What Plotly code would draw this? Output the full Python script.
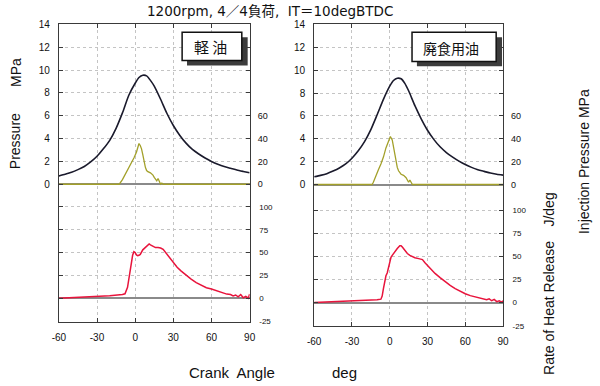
import plotly.graph_objects as go

# ---------------- data ----------------
# Cylinder pressure (MPa) vs crank angle (deg)
p_angle = [-60, -55, -50, -45, -40, -35, -30, -25, -20, -15, -10, -5, 0, 3, 6, 9, 12, 15,
           20, 25, 30, 35, 40, 45, 50, 55, 60, 65, 70, 75, 80, 85, 90]
p_light = [0.73, 0.88, 1.05, 1.28, 1.55, 1.95, 2.45, 3.1, 3.85, 4.9, 6.25, 7.8, 8.85, 9.35, 9.55,
           9.5, 9.1, 8.6, 7.45, 6.2, 5.15, 4.3, 3.6, 3.05, 2.65, 2.3, 2.0, 1.75, 1.55, 1.4, 1.25, 1.12, 1.0]
p_waste = [0.68, 0.8, 0.95, 1.18, 1.45, 1.8, 2.3, 2.95, 3.75, 4.8, 6.1, 7.45, 8.6, 9.1, 9.3,
           9.25, 8.85, 8.2, 6.9, 5.75, 4.75, 3.95, 3.3, 2.8, 2.4, 2.05, 1.75, 1.5, 1.3, 1.15, 1.0, 0.9, 0.82]

# Injection pressure (MPa)
inj_angle_l = [-60, -12.5, -10, -7, -4, -1, 1, 2, 3, 4, 5, 6, 7, 8, 9, 10, 12, 14, 15, 16, 17, 18, 19, 20, 21, 22, 90]
inj_light = [0, 0, 4, 10, 17, 23, 28, 32, 35.7, 34, 31, 26, 20, 15, 12, 11, 10, 8, 6, 4, 3, 5, 2, 0, 1, 0, 0]
inj_angle_r = [-60, -14, -13, -11, -9, -7, -5, -3, -1, 0.5, 2, 3, 4, 5, 6, 7, 9, 11, 13, 14, 15, 16, 17, 18, 90]
inj_waste = [0, 0, 2, 8, 13, 18, 24, 32, 38, 42, 39, 33, 26, 20, 15, 12, 9, 8, 6, 4, 2, 4, 2, 0, 0]

# Rate of heat release (J/deg)
h_angle_l = [-60, -55, -50, -40, -30, -20, -10, -8, -6, -4, -2, -1, 0, 1, 2, 3, 4, 6, 8, 10, 11, 12,
             14, 16, 18, 20, 22, 24, 26, 28, 30, 33, 36, 40, 44, 48, 52, 56, 60, 64, 68, 72, 75,
             77, 79, 81, 83, 85, 87, 89, 90]
heat_light = [0, 0.3, 0.5, 1.2, 2.0, 2.8, 4.0, 4.8, 12, 30, 47, 51, 50, 47.5, 46.7, 47, 48, 53, 56,
              58.5, 59.5, 58.5, 56.5, 55.5, 55.5, 55, 53.5, 50, 46, 42, 38.5, 34, 30, 25, 21, 17,
              14, 11.5, 10, 8, 6, 4.5, 4, 2.5, 3.5, 1.5, 4, 0.5, 2, 0, 4.5]
h_angle_r = [-60, -50, -40, -30, -20, -10, -7, -6, -5, -4, -3, -2, -1, 0, 1, 2, 3, 4, 6, 8, 9, 10,
             12, 14, 16, 18, 20, 23, 26, 28, 30, 33, 36, 40, 44, 48, 52, 56, 60, 64, 68, 72, 75,
             77, 79, 81, 83, 85, 87, 89, 90]
heat_waste = [0, 0.5, 1, 1.5, 2.2, 3, 3.7, 7, 15, 24, 29, 32, 38, 45, 49, 51, 53, 55, 58.5, 61.5,
              61.5, 60, 56.5, 53, 51, 49.5, 48.5, 47.5, 46.5, 43, 40, 35.5, 31.5, 27, 22.5, 18.5,
              15, 12, 9.5, 7.5, 6, 5, 4, 3, 4, 2, 3.5, 1, 2, 0.5, 2]

x_ticks = [-60, -30, 0, 30, 60, 90]
x_tick_labels = ["-60", "-30", "0", "30", "60", "90"]
p_ticks = [0, 2, 4, 6, 8, 10, 12, 14]
inj_ticks = [0, 20, 40, 60]
heat_ticks = [-25, 0, 25, 50, 75, 100]
heat_tick_labels = ["-25", "0", "25", "50", "75", "100"]

title_text = "1200rpm, 4／4負荷,  IT＝10degBTDC"
panel_labels = ["軽 油", "廃食用油"]

# ---------------- layout helpers ----------------
W, H = 600, 386
C_P = "#1a1a2c"
C_INJ = "#a3a02a"
C_HEAT = "#e8143c"
C_FRAME = "#3a3a3a"
C_GRID = "#c4c4c4"
FONT = "Liberation Sans, Arial, sans-serif"
CJK = "Noto Sans CJK JP"


def px(x):
    return x / W


def py(y):
    return 1 - y / H


def ax_range(top_px, bot_px, zero_px, ppu):
    return [-(bot_px - zero_px) / ppu, (zero_px - top_px) / ppu]


# panel geometry in pixels
panels = [
    dict(x0=53, x1=248, top=20, bot=325, pz=184.0, pppu=(184.0 - 20) / 14, hz=301.0, hppu=(301.0 - 207.3) / 100),
    dict(x0=314, x1=507, top=20, bot=329.5, pz=184.3, pppu=(184.3 - 20) / 14, hz=305.5, hppu=(305.5 - 210.5) / 100),
]

fig = go.Figure()
layout = dict(width=W, height=H, margin=dict(l=0, r=0, t=0, b=0), autosize=False,
              paper_bgcolor="white", plot_bgcolor="white", showlegend=False)

series = [
    (p_angle, p_light, inj_angle_l, inj_light, h_angle_l, heat_light),
    (p_angle, p_waste, inj_angle_r, inj_waste, h_angle_r, heat_waste),
]

for i, g in enumerate(panels):
    xa = "x" if i == 0 else "x2"
    xkey = "xaxis" if i == 0 else "xaxis2"
    yp, yi, yh = 1 + 3 * i, 2 + 3 * i, 3 + 3 * i
    ynames = ["y" if n == 1 else f"y{n}" for n in (yp, yi, yh)]
    ykeys = ["yaxis" if n == 1 else f"yaxis{n}" for n in (yp, yi, yh)]
    dom_y = [py(g["bot"]), py(g["top"])]
    prange = ax_range(g["top"], g["bot"], g["pz"], g["pppu"])
    irange = [v * 10 for v in prange]
    hrange = ax_range(g["top"], g["bot"], g["hz"], g["hppu"])

    layout[xkey] = dict(domain=[px(g["x0"]), px(g["x1"])], range=[-60, 90], anchor=ynames[0],
                        tickvals=x_ticks, ticktext=x_tick_labels, ticks="inside", ticklen=4,
                        tickcolor=C_FRAME, showline=True, linecolor=C_FRAME, linewidth=1, mirror="ticks",
                        showgrid=True, gridcolor=C_GRID, griddash="dot", gridwidth=1, zeroline=False,
                        tickfont=dict(family=FONT, size=10, color="#111"), ticklabelstandoff=6)
    layout[ykeys[0]] = dict(domain=dom_y, range=prange, anchor=xa, side="left",
                            tickvals=p_ticks, ticks="inside", ticklen=4, tickcolor=C_FRAME,
                            showline=True, linecolor=C_FRAME, linewidth=1, mirror="ticks",
                            showgrid=True, gridcolor=C_GRID, griddash="dot", gridwidth=1,
                            zeroline=True, zerolinecolor="#8a8a8a", zerolinewidth=1.5,
                            tickfont=dict(family=FONT, size=10, color="#111"), ticklabelstandoff=6)
    layout[ykeys[1]] = dict(overlaying=ynames[0], range=irange, anchor=xa, side="right",
                            tickvals=inj_ticks, ticks="inside", ticklen=4, tickcolor=C_FRAME,
                            showline=False, showgrid=False, zeroline=False,
                            tickfont=dict(family=FONT, size=9, color="#111"), ticklabelstandoff=7)
    layout[ykeys[2]] = dict(overlaying=ynames[0], range=hrange, anchor=xa, side="right",
                            tickvals=heat_ticks, ticktext=heat_tick_labels, ticks="inside", ticklen=4,
                            tickcolor=C_FRAME, showline=True, linecolor=C_FRAME, linewidth=1, mirror="ticks",
                            showgrid=True, gridcolor=C_GRID, griddash="dot", gridwidth=1,
                            zeroline=True, zerolinecolor="#8a8a8a", zerolinewidth=1.5,
                            tickfont=dict(family=FONT, size=8, color="#111"), ticklabelstandoff=7)

    pa, pv, ia, iv, ha, hv = series[i]
    fig.add_trace(go.Scatter(x=ha, y=hv, mode="lines", xaxis=xa, yaxis=ynames[2],
                             line=dict(color=C_HEAT, width=1.5)))
    fig.add_trace(go.Scatter(x=ia, y=iv, mode="lines", xaxis=xa, yaxis=ynames[1],
                             line=dict(color=C_INJ, width=1.3)))
    fig.add_trace(go.Scatter(x=pa, y=pv, mode="lines", xaxis=xa, yaxis=ynames[0],
                             line=dict(color=C_P, width=1.6, shape="spline", smoothing=0.6)))

fig.update_layout(**layout)

# label boxes with shadows
boxes = [dict(x0=179, x1=240, y0=28, y1=57, tx=208, ty=43, size=15),
         dict(x0=414, x1=500, y0=28, y1=58, tx=454, ty=44, size=14)]
for b, lab in zip(boxes, panel_labels):
    fig.add_shape(type="rect", xref="paper", yref="paper", x0=px(b["x0"] + 5), x1=px(b["x1"] + 6),
                  y0=py(b["y1"] + 5), y1=py(b["y0"] + 5), fillcolor="#3c3c3c", line=dict(width=0))
    fig.add_shape(type="rect", xref="paper", yref="paper", x0=px(b["x0"]), x1=px(b["x1"]),
                  y0=py(b["y1"]), y1=py(b["y0"]), fillcolor="white", line=dict(color="#111", width=1.5))
    fig.add_annotation(xref="paper", yref="paper", x=px(b["tx"]), y=py(b["ty"]), text=lab,
                       showarrow=False, xanchor="center", yanchor="middle",
                       font=dict(family=CJK, size=b["size"], color="#111"))

# title and axis titles
fig.add_annotation(xref="paper", yref="paper", x=px(269), y=py(6.5), text=title_text, showarrow=False,
                   xanchor="center", yanchor="middle",
                   font=dict(family="DejaVu Sans, Noto Sans CJK JP", size=13.5, color="#111"))
fig.add_annotation(xref="paper", yref="paper", x=px(9), y=py(140), text="Pressure", textangle=-90,
                   showarrow=False, xanchor="center", yanchor="middle", font=dict(family=FONT, size=14, color="#111"))
fig.add_annotation(xref="paper", yref="paper", x=px(9), y=py(69), text="MPa", textangle=-90,
                   showarrow=False, xanchor="center", yanchor="middle", font=dict(family=FONT, size=14, color="#111"))
fig.add_annotation(xref="paper", yref="paper", x=px(554), y=py(311), text="Rate of Heat Release", textangle=-90,
                   showarrow=False, xanchor="center", yanchor="middle", font=dict(family=FONT, size=14, color="#111"))
fig.add_annotation(xref="paper", yref="paper", x=px(554), y=py(210), text="J/deg", textangle=-90,
                   showarrow=False, xanchor="center", yanchor="middle", font=dict(family=FONT, size=14, color="#111"))
fig.add_annotation(xref="paper", yref="paper", x=px(590), y=py(161), text="Injection Pressure MPa", textangle=-90,
                   showarrow=False, xanchor="center", yanchor="middle", font=dict(family=FONT, size=14, color="#111"))
fig.add_annotation(xref="paper", yref="paper", x=px(184), y=py(377), text="Crank  Angle",
                   showarrow=False, xanchor="left", yanchor="middle", font=dict(family=FONT, size=15, color="#111"))
fig.add_annotation(xref="paper", yref="paper", x=px(330), y=py(377), text="deg",
                   showarrow=False, xanchor="left", yanchor="middle", font=dict(family=FONT, size=15, color="#111"))

fig.write_html("out.html", config={"displayModeBar": False},
               post_script="document.body.style.margin='0';document.body.style.overflow='hidden';")
